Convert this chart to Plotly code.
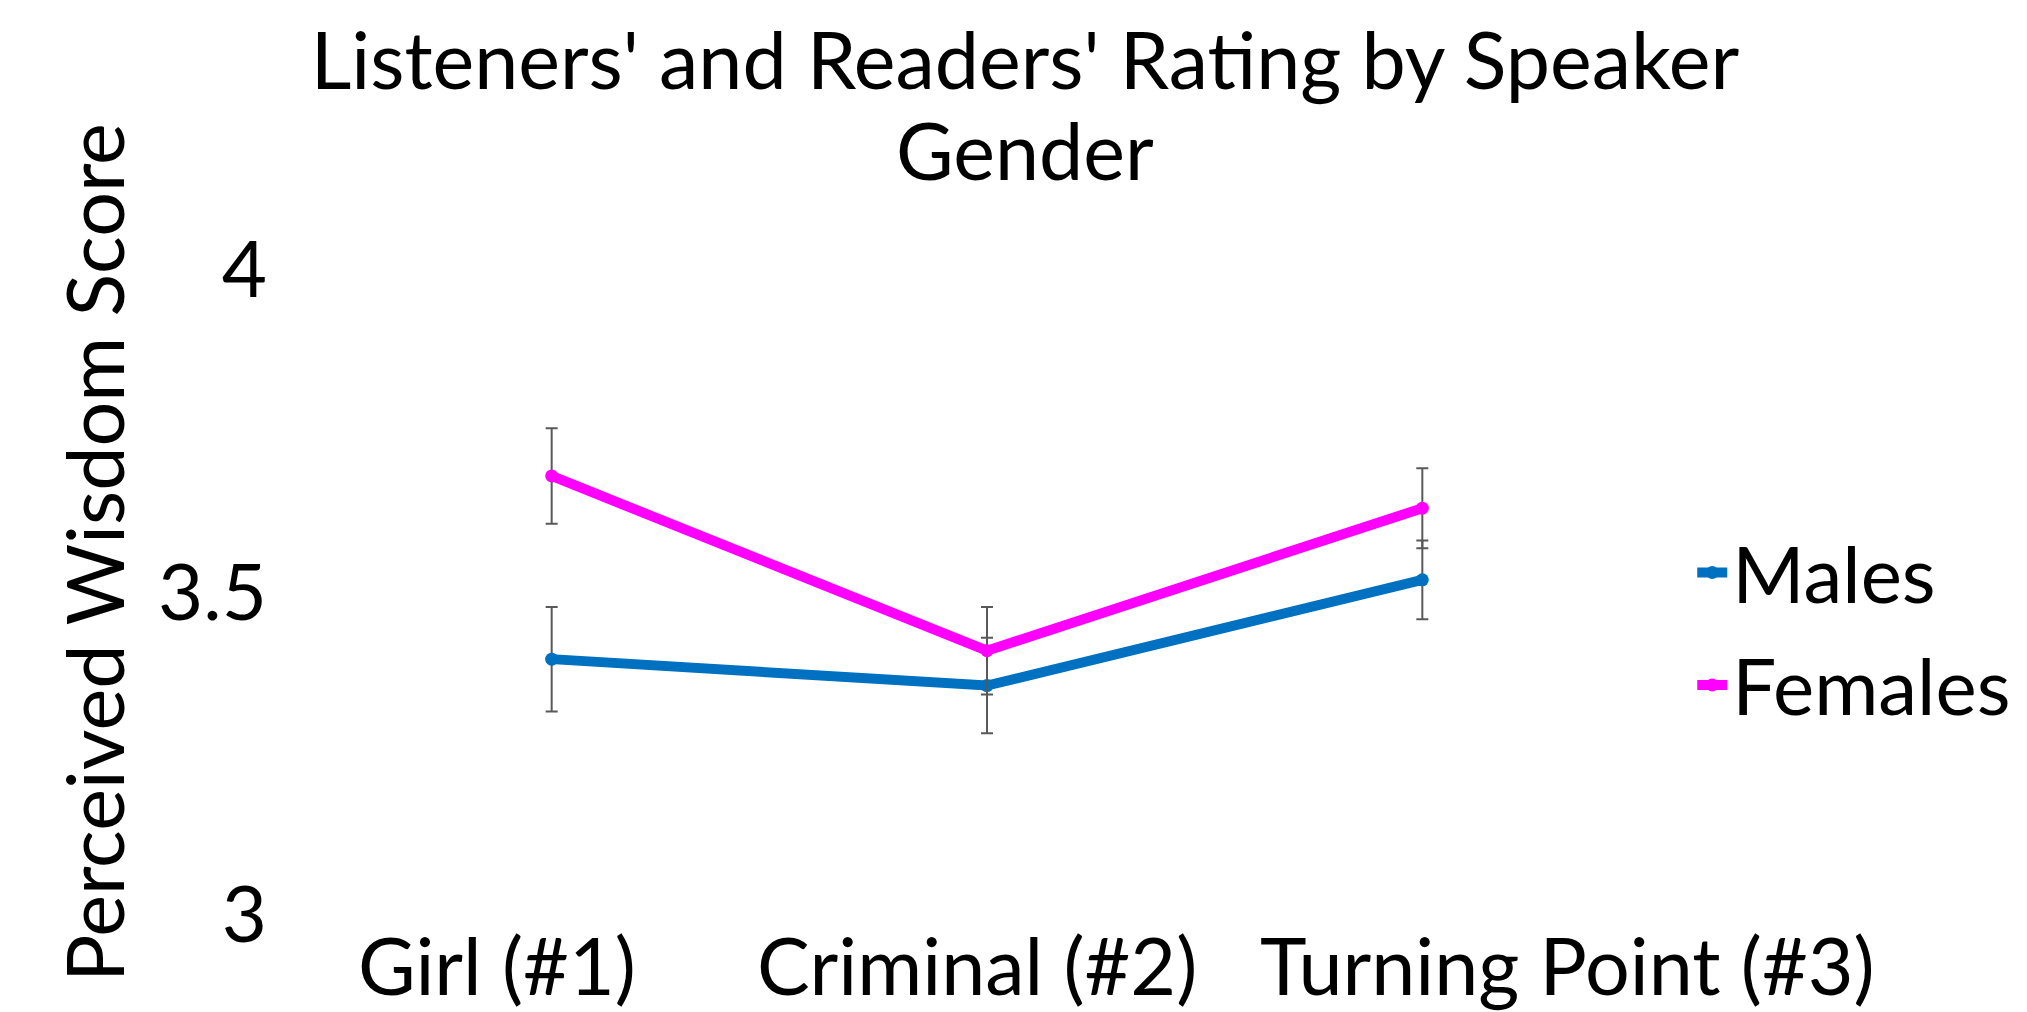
import plotly.graph_objects as go

categories = ["Girl (#1)", "Criminal (#2)", "Turning Point (#3)"]
males = [3.406, 3.365, 3.529]
males_err = [0.081, 0.074, 0.061]
females = [3.69, 3.419, 3.64]
females_err = [0.074, 0.068, 0.062]
y_ticks = [3, 3.5, 4]
y_ticktext = ["3", "3.5", "4"]
title_line1 = "Listeners' and Readers' Rating by Speaker"
title_line2 = "Gender"
# horizontal offsets of the category labels (Excel spreads them apart)
label_shift = [-55, -10, 145]

FONT = "Lato"
FS = 78
H = 1012
T, B = 268, 99
PLOT_H = H - T - B


def paper_y(px):
    return (H - B - px) / PLOT_H


fig = go.Figure()
fig.add_trace(go.Scatter(
    x=categories, y=males, name="Males", mode="lines+markers",
    line=dict(color="#0070C0", width=10), marker=dict(size=13, color="#0070C0"),
    error_y=dict(type="data", array=males_err, color="#595959", thickness=2, width=6),
    legendgroup="m",
))
fig.add_trace(go.Scatter(
    x=categories, y=females, name="Females", mode="lines+markers",
    line=dict(color="#FF00FF", width=10), marker=dict(size=13, color="#FF00FF"),
    error_y=dict(type="data", array=females_err, color="#595959", thickness=2, width=6),
    legendgroup="f",
))

annotations = [
    dict(text="Perceived Wisdom Score", textangle=-90,
         x=-0.1845, y=0.5705, xref="paper", yref="paper",
         xanchor="center", yanchor="middle", showarrow=False,
         font=dict(family=FONT, size=FS + 1, color="black")),
    dict(text=title_line2, x=(1017 - 326) / 1306, y=paper_y(142),
         xref="paper", yref="paper", xanchor="center", yanchor="middle",
         showarrow=False, font=dict(family=FONT, size=FS + 1, color="black")),
]
for cat, sh in zip(categories, label_shift):
    annotations.append(dict(text=cat, x=cat, y=0, xref="x", yref="paper",
                            xanchor="center", yanchor="middle", xshift=sh,
                            yshift=-43, showarrow=False,
                            font=dict(family=FONT, size=FS + 1, color="black")))

fig.update_layout(
    width=2027, height=H,
    margin=dict(l=326, r=395, t=T, b=B, autoexpand=False),
    paper_bgcolor="white", plot_bgcolor="white",
    font=dict(family=FONT, size=FS, color="black"),
    title=dict(text=title_line1,
               x=1017 / 2027, xref="container", xanchor="center",
               y=1 - 53 / H, yref="container", yanchor="middle",
               font=dict(family=FONT, size=FS + 1, color="black")),
    xaxis=dict(showgrid=False, showline=False, zeroline=False, ticks="",
               range=[-0.5, 2.5], showticklabels=False, automargin=False),
    yaxis=dict(range=[3, 4], tickvals=y_ticks, ticktext=y_ticktext,
               showgrid=False, showline=False, zeroline=False, ticks="",
               automargin=False, ticklabelstandoff=66, ticklabelshift=-6),
    legend=dict(x=1.040, xanchor="left", y=0.453, yanchor="middle",
                xref="paper", yref="paper", tracegroupgap=8,
                font=dict(family=FONT, size=FS), bgcolor="rgba(0,0,0,0)"),
    showlegend=True,
    annotations=annotations,
)

fig.write_html("out.html")
